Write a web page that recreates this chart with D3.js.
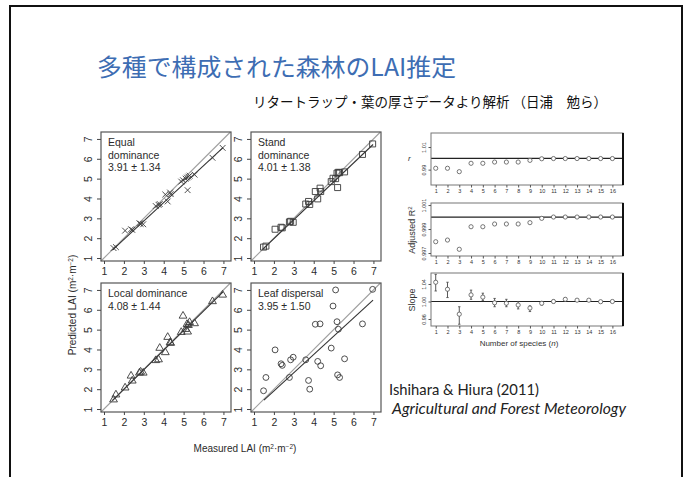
<!DOCTYPE html>
<html><head><meta charset="utf-8">
<script src="https://cdn.jsdelivr.net/npm/d3@7"></script>
<style>body{margin:0;background:#fff}svg{display:block}</style>
</head><body><svg id="c" width="684" height="477"></svg>
<script>
// ---------- data ----------
const measured   = [1.48,1.60,2.06,2.36,2.42,2.78,2.84,2.97,3.60,3.74,3.80,4.08,4.20,4.32,4.35,4.88,4.97,5.10,5.17,5.20,5.24,5.30,5.55,6.45,6.96];
const predEqual  = [1.50,1.55,2.38,2.45,2.42,2.75,2.72,2.70,3.62,3.68,3.72,4.20,3.85,4.30,4.22,4.85,4.92,5.00,5.05,4.42,5.10,5.15,5.20,6.05,6.55];
const predStand  = [1.55,1.60,2.45,2.55,2.52,2.82,2.85,2.80,3.72,3.85,3.70,4.35,3.98,4.52,4.35,4.85,5.02,5.00,5.28,4.55,5.32,5.30,5.34,6.22,6.75];
const predLocal  = [1.50,1.75,2.10,2.70,2.45,2.85,2.90,2.85,3.48,3.52,4.10,3.88,4.65,4.38,4.35,4.90,5.72,5.05,5.30,4.92,5.25,5.40,5.34,6.45,6.78];
const predLeaf   = [1.92,2.59,3.98,3.28,3.20,2.59,3.48,3.61,3.48,2.44,2.00,5.27,3.40,5.29,3.18,4.07,6.19,7.00,5.40,2.72,5.02,2.59,3.53,5.29,7.03];
const panelLabels = [["Equal","dominance","3.91 ± 1.34"],["Stand","dominance","4.01 ± 1.38"],["Local dominance","4.08 ± 1.44"],["Leaf dispersal","3.95 ± 1.50"]];
const panelMarkers = ["cross","square","triangle","circle"];
// regression lines [x0, y0, x1, y1] in LAI units
const fitLines = [[1.42,1.40,6.98,6.56],[1.42,1.42,6.98,6.72],[1.42,1.42,6.98,6.90],[1.50,1.45,6.98,6.49]];
const laiTicks = [1,2,3,4,5,6,7];

const species    = [1,2,3,4,5,6,7,8,9,10,11,12,13,14,15,16];
const rValues    = [0.9912,0.9912,0.9882,0.9956,0.9956,0.9967,0.9967,0.9967,0.9982,0.9996,0.9998,0.9998,0.9998,0.9998,0.9998,0.9998];
const r2Values   = [0.99794,0.99808,0.99731,0.99919,0.99919,0.99942,0.99942,0.99942,0.99953,0.99989,1.0000,1.0000,1.0000,1.0000,1.0000,1.0000];
const slopeMean  = [1.044,1.028,0.971,1.015,1.010,0.997,0.996,0.992,0.985,0.996,1.000,1.005,1.003,1.003,0.9995,1.000];
const slopeLow   = [1.024,1.009,0.948,1.005,1.002,0.988,0.988,0.983,0.977,0.992,0.997,1.002,1.001,1.001,0.998,0.998];
const slopeHigh  = [1.062,1.044,0.988,1.026,1.019,1.007,1.005,1.000,0.990,1.000,1.003,1.008,1.005,1.005,1.001,1.002];
const rTicks     = [0.99,1.01];
const r2Ticks    = [0.997,0.999,1.001];
const slopeTicks = [0.96,1.00,1.04];
const refValues  = [1.00,1.000,1.00];

const titleText = "多種で構成された森林のLAI推定";
const subtitleText = "リタートラップ・葉の厚さデータより解析 （日浦　勉ら）";
const citeText = ["Ishihara & Hiura (2011)","Agricultural and Forest Meteorology"];

// ---------- drawing ----------
const svg = d3.select("#c");
const ink = "#2b2b2b";
const F = "'Liberation Sans', Arial, sans-serif";

svg.append("rect").attr("x",10).attr("y",6).attr("width",672).attr("height",490)
  .attr("fill","none").attr("stroke","#111").attr("stroke-width",2);

svg.append("text").attr("x",97).attr("y",76).attr("font-family","'Noto Sans CJK JP'")
  .attr("font-size",24).attr("fill","#3d6db3").attr("textLength",359).attr("lengthAdjust","spacingAndGlyphs")
  .text(titleText);
svg.append("text").attr("x",253).attr("y",107).attr("font-family","'Noto Sans CJK JP'")
  .attr("font-size",14).attr("fill","#111").attr("textLength",354).attr("lengthAdjust","spacingAndGlyphs")
  .text(subtitleText);

// scatter panels
const preds = [predEqual,predStand,predLocal,predLeaf];
const colX = [101,251], rowY = [132,283], W = 130, H = 129;
preds.forEach((pred,i)=>{
  const x0 = colX[i%2], y0 = rowY[Math.floor(i/2)];
  const x = d3.scaleLinear().domain([0.85,7.38]).range([x0,x0+W]);
  const y = d3.scaleLinear().domain([0.85,7.35]).range([y0+H,y0]);
  const g = svg.append("g");
  // 1:1 line
  g.append("line").attr("x1",x(0.85)).attr("y1",y(0.85)).attr("x2",x(7.35)).attr("y2",y(7.35))
    .attr("stroke","#a0a0a0").attr("stroke-width",1.1);
  const fl = fitLines[i];
  g.append("line").attr("x1",x(fl[0])).attr("y1",y(fl[1])).attr("x2",x(fl[2])).attr("y2",y(fl[3]))
    .attr("stroke","#333").attr("stroke-width",1.1);
  // markers
  const m = panelMarkers[i];
  const pts = g.selectAll("path.pt").data(measured.map((v,k)=>[v,pred[k]])).enter().append("path")
    .attr("transform",d=>`translate(${x(d[0])},${y(d[1])})`)
    .attr("fill","none").attr("stroke","#3a3a3a").attr("stroke-width",0.9);
  if(m==="cross") pts.attr("d","M-2.9,-2.9L2.9,2.9M-2.9,2.9L2.9,-2.9");
  if(m==="square") pts.attr("d","M-3,-3H3V3H-3Z");
  if(m==="triangle") pts.attr("d","M0,-3.9L3.9,2.8L-3.9,2.8Z");
  if(m==="circle") pts.attr("d",d3.symbol(d3.symbolCircle,27)());
  // box
  g.append("rect").attr("x",x0).attr("y",y0).attr("width",W).attr("height",H)
    .attr("fill","none").attr("stroke","#555").attr("stroke-width",1.2);
  // axes
  const ax = g.append("g").attr("transform",`translate(0,${y0+H})`)
    .call(d3.axisBottom(x).tickValues(laiTicks).tickSize(3).tickPadding(4).tickFormat(d3.format("d")));
  const ay = g.append("g").attr("transform",`translate(${x0},0)`)
    .call(d3.axisLeft(y).tickValues(laiTicks).tickSize(4).tickFormat(d3.format("d")));
  [ax,ay].forEach(a=>{a.select(".domain").remove();
    a.selectAll("line").attr("stroke","#444");
    a.selectAll("text").attr("font-family",F).attr("font-size",10.5).attr("fill",ink);});
  ay.selectAll("text").attr("x",0).attr("dy",0).attr("text-anchor","middle")
    .attr("transform","translate(-9,0) rotate(-90)");
  // labels
  const lab = panelLabels[i];
  lab.forEach((t,k)=>{
    g.append("text").attr("x",x0+7).attr("y",y0+14+k*12.5).attr("font-family",F)
      .attr("font-size",10.5).attr("fill",ink).text(t);
  });
});

// axis titles
svg.append("text").attr("transform","translate(76,305) rotate(-90)").attr("text-anchor","middle")
  .attr("font-family",F).attr("font-size",10).attr("fill",ink)
  .html('Predicted LAI (m<tspan baseline-shift="super" font-size="6.5">2</tspan>·m<tspan baseline-shift="super" font-size="6.5">−2</tspan>)');
svg.append("text").attr("x",245).attr("y",452).attr("text-anchor","middle")
  .attr("font-family",F).attr("font-size",10).attr("fill",ink)
  .html('Measured LAI (m<tspan baseline-shift="super" font-size="6.5">2</tspan>·m<tspan baseline-shift="super" font-size="6.5">−2</tspan>)');

// right-hand panels
const rpX0 = 431, rpW = 192;
const xs = d3.scaleLinear().domain([0.6,16.9]).range([rpX0,rpX0+rpW]);
const rPanels = [
  {vals:rValues, ticks:rTicks, dom:[0.9764,1.0224], y0:133, y1:185, fmt:d3.format(".2f")},
  {vals:r2Values, ticks:r2Ticks, dom:[0.99675,1.00117], y0:203, y1:256, fmt:d3.format(".3f")},
  {vals:slopeMean, ticks:slopeTicks, dom:[0.944,1.0651], y0:273, y1:326, fmt:d3.format(".2f"), err:true}
];
rPanels.forEach((p,i)=>{
  const y = d3.scaleLinear().domain(p.dom).range([p.y1,p.y0]);
  const g = svg.append("g");
  g.append("line").attr("x1",rpX0).attr("x2",rpX0+rpW).attr("y1",y(refValues[i])).attr("y2",y(refValues[i]))
    .attr("stroke","#222").attr("stroke-width",1.2);
  if(p.err){
    g.selectAll("line.eb").data(species).enter().append("line")
      .attr("x1",d=>xs(d)).attr("x2",d=>xs(d))
      .attr("y1",(d,k)=>y(slopeLow[k])).attr("y2",(d,k)=>y(slopeHigh[k]))
      .attr("stroke","#444").attr("stroke-width",0.9);
    [slopeLow,slopeHigh].forEach(arr=>{
      g.selectAll(null).data(species).enter().append("line")
        .attr("x1",d=>xs(d)-1.2).attr("x2",d=>xs(d)+1.2)
        .attr("y1",(d,k)=>y(arr[k])).attr("y2",(d,k)=>y(arr[k]))
        .attr("stroke","#444").attr("stroke-width",0.8);
    });
  }
  g.selectAll("circle.pt").data(species).enter().append("circle")
    .attr("cx",d=>xs(d)).attr("cy",(d,k)=>y(p.vals[k])).attr("r",2.1)
    .attr("fill","#fff").attr("stroke","#555").attr("stroke-width",0.8);
  g.append("rect").attr("x",rpX0).attr("y",p.y0).attr("width",rpW).attr("height",p.y1-p.y0)
    .attr("fill","none").attr("stroke","#777").attr("stroke-width",1);
  g.append("line").attr("x1",rpX0+rpW).attr("x2",rpX0+rpW).attr("y1",p.y0).attr("y2",p.y1)
    .attr("stroke","#111").attr("stroke-width",2);
  const ax = g.append("g").attr("transform",`translate(0,${p.y1})`)
    .call(d3.axisBottom(xs).tickValues(species).tickSize(2.5).tickPadding(2).tickFormat(d3.format("d")));
  const ay = g.append("g").attr("transform",`translate(${rpX0},0)`)
    .call(d3.axisLeft(y).tickValues(p.ticks).tickSize(2.5).tickFormat(p.fmt));
  [ax,ay].forEach(a=>{a.select(".domain").remove();
    a.selectAll("line").attr("stroke","#555");
    a.selectAll("text").attr("font-family",F).attr("font-size",5.5).attr("fill","#333");});
  ay.selectAll("text").attr("x",0).attr("dy",0).attr("text-anchor","middle")
    .attr("transform","translate(-5,0) rotate(-90)");
});
svg.append("text").attr("x",408).attr("y",161).attr("font-family",F).attr("font-style","italic")
  .attr("font-size",8).attr("fill","#333").text("r");
svg.append("text").attr("transform","translate(415,230) rotate(-90)").attr("text-anchor","middle")
  .attr("font-family",F).attr("font-size",9).attr("fill","#333")
  .html('Adjusted R<tspan baseline-shift="super" font-size="6">2</tspan>');
svg.append("text").attr("transform","translate(415,300) rotate(-90)").attr("text-anchor","middle")
  .attr("font-family",F).attr("font-size",9).attr("fill","#333").text("Slope");
svg.append("text").attr("x",519).attr("y",346).attr("text-anchor","middle")
  .attr("font-family",F).attr("font-size",8).attr("fill","#333")
  .html('Number of species (<tspan font-style="italic">n</tspan>)');

// citation
svg.append("text").attr("x",389).attr("y",395).attr("font-family","Lato, 'Open Sans', sans-serif")
  .attr("font-size",16).attr("fill","#222").attr("textLength",150).attr("lengthAdjust","spacingAndGlyphs")
  .text(citeText[0]);
svg.append("text").attr("x",392).attr("y",414).attr("font-family","Lato, 'Open Sans', sans-serif")
  .attr("font-style","italic").attr("font-size",15).attr("fill","#222").attr("textLength",234).attr("lengthAdjust","spacingAndGlyphs")
  .text(citeText[1]);
</script></body></html>
